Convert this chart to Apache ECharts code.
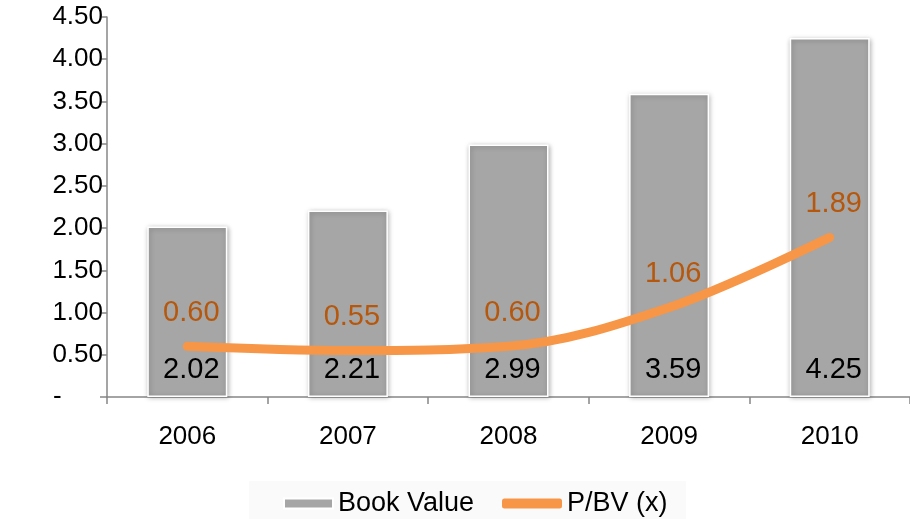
<!DOCTYPE html>
<html>
<head>
<meta charset="utf-8">
<script src="https://cdn.jsdelivr.net/npm/echarts@6/dist/echarts.min.js"></script>
<style>
  html, body { margin: 0; padding: 0; background: #fff; }
  #chart { width: 910px; height: 519px; }
</style>
</head>
<body>
<div id="chart"></div>
<script>
var years = ['2006', '2007', '2008', '2009', '2010'];
var bookValue = [2.02, 2.21, 2.99, 3.59, 4.25];
var pbv = [0.60, 0.55, 0.60, 1.06, 1.89];

var font = 'Liberation Sans, Arial, sans-serif';
var myChart = echarts.init(document.getElementById('chart'));

var option = {
    animation: false,
    graphic: [{
        type: 'rect',
        shape: { x: 249, y: 481, width: 437, height: 38 },
        style: { fill: '#fafafa' },
        z: -1
    }],
    legend: [{
        data: [{ name: 'Book Value', icon: 'rect' }],
        left: 283,
        top: 490,
        padding: 0,
        itemWidth: 49,
        itemHeight: 10,
        textStyle: { fontFamily: font, fontSize: 27, color: '#000' }
    }, {
        data: [{ name: 'P/BV (x)', icon: 'roundRect', itemStyle: { color: '#f79646', opacity: 1 } }],
        left: 502,
        top: 490,
        padding: 0,
        itemWidth: 60,
        itemHeight: 10,
        textStyle: { fontFamily: font, fontSize: 27, color: '#000' }
    }],
    grid: {
        left: 107,
        top: 17,
        width: 811,
        height: 380
    },
    xAxis: {
        type: 'category',
        data: years,
        axisLine: { lineStyle: { color: '#878787', width: 1.5 } },
        axisTick: { show: true, length: 7, lineStyle: { color: '#878787', width: 1.5 } },
        axisLabel: { margin: 27, fontFamily: font, fontSize: 26, color: '#000' }
    },
    yAxis: {
        type: 'value',
        min: 0,
        max: 4.5,
        interval: 0.5,
        splitLine: { show: false },
        axisLine: { show: true, lineStyle: { color: '#878787', width: 1.5 } },
        axisTick: { show: true, length: 7, lineStyle: { color: '#878787', width: 1.5 } },
        axisLabel: {
            margin: 4,
            fontFamily: font,
            fontSize: 26,
            color: '#000',
            formatter: function (v) { return v === 0 ? '{d|-}' : v.toFixed(2); },
            rich: {
                d: { fontFamily: font, fontSize: 26, color: '#000', width: 50, align: 'left' }
            }
        }
    },
    series: [{
        name: 'Book Value',
        type: 'bar',
        data: bookValue,
        barWidth: 80,
        itemStyle: {
            color: '#a6a6a6',
            borderColor: '#fff',
            borderWidth: 1.5,
            shadowBlur: 5,
            shadowColor: 'rgba(0,0,0,0.3)',
            shadowOffsetX: 1,
            shadowOffsetY: 1
        },
        label: {
            show: true,
            position: 'insideBottom',
            distance: 13,
            offset: [4, 0],
            fontFamily: font,
            fontSize: 29,
            color: '#000',
            formatter: function (p) { return p.value.toFixed(2); }
        }
    }, {
        name: 'P/BV (x)',
        type: 'line',
        data: pbv,
        smooth: 0.35,
        symbol: 'circle',
        symbolSize: 0.1,
        showSymbol: true,
        lineStyle: { color: '#f79646', width: 9, cap: 'round' },
        itemStyle: { color: '#f79646' },
        label: {
            show: true,
            position: 'top',
            distance: 19,
            offset: [4, 0],
            fontFamily: font,
            fontSize: 29,
            color: '#b5570d',
            formatter: function (p) { return p.value.toFixed(2); }
        },
        z: 3
    }]
};
myChart.setOption(option);
</script>
</body>
</html>
